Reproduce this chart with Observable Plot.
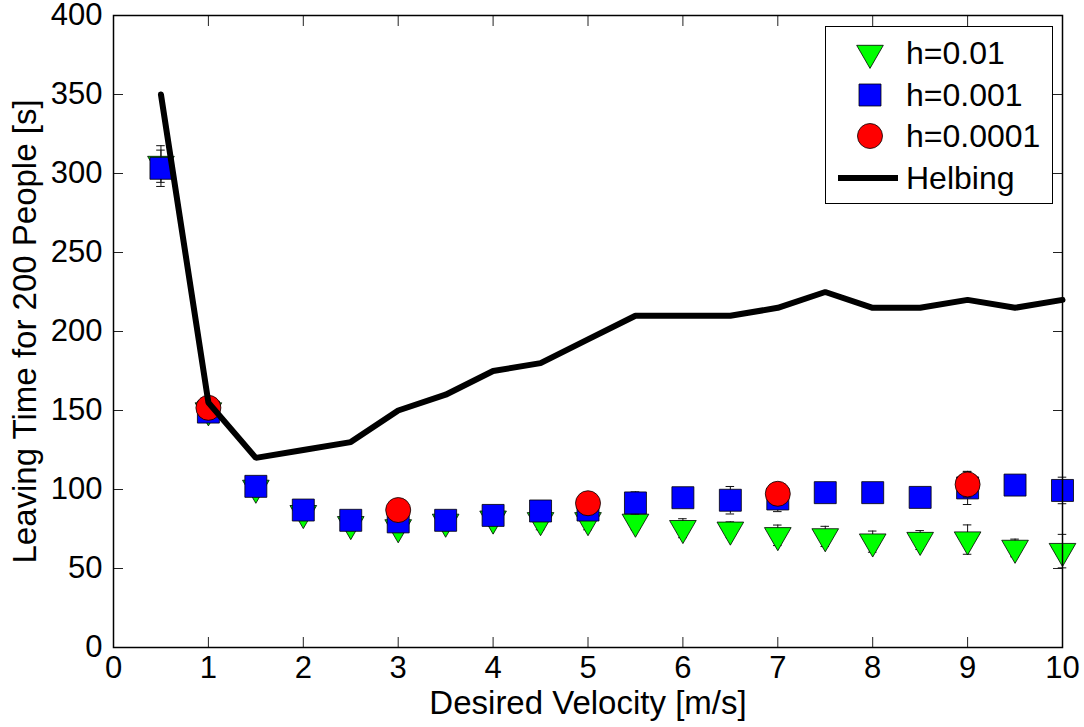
<!DOCTYPE html>
<html><head><meta charset="utf-8">
<script src="https://cdn.jsdelivr.net/npm/d3@7"></script>
<script src="https://cdn.jsdelivr.net/npm/@observablehq/plot@0.6"></script>
<style>
body{margin:0;background:#fff;}
#wrap{position:relative;width:1084px;height:727px;font-family:"Liberation Sans",Arial,Helvetica,sans-serif;}
#legend{position:absolute;left:825px;top:26px;}
</style></head><body><div id="wrap"></div>
<script>
// ---- data ----
const velocity = [0.5,1,1.5,2,2.5,3,3.5,4,4.5,5,5.5,6,6.5,7,7.5,8,8.5,9,9.5,10];
const leaveH01 = [306,150,101,85,78,76,79.5,81.5,80.5,80.5,79.5,75.5,74.5,71,70.3,67,68,68.3,63,61];
const errH01   = [11.6,3,3,3,3,3,3,4,6,6,5,6,5,6.5,6.4,6.7,6,9.3,5.6,10.6];
const leaveH001 = [303.3,149,102,87,80.5,79.5,80.5,83.6,86.4,87,91.5,94.8,93.2,94,98,98,95,101,102.8,99.4];
const errH001   = [11.5,2,2,2,2,2,2,3,3,4,7,5,8.7,8,3,3,3,10.5,2,8.4];
const velocityH0001 = [1,3,5,7,9];
const leaveH0001 = [151.7,87,91.3,97.3,103.2];
const errH0001   = [2,2,3,7,8];
const helbing = [350,155,120,125,130,150,160,175,180,195,210,210,210,215,225,215,215,220,215,220];
const xTicks = [0,1,2,3,4,5,6,7,8,9,10];
const yTicks = [0,50,100,150,200,250,300,350,400];
const seriesNames = ["h=0.01","h=0.001","h=0.0001","Helbing"];
const xLabel = "Desired Velocity [m/s]";
const yLabel = "Leaving Time for 200 People [s]";

const tri = velocity.map((x,i)=>({x, y:leaveH01[i], e:errH01[i]}));
const sq  = velocity.map((x,i)=>({x, y:leaveH001[i], e:errH001[i]}));
const circ = velocityH0001.map((x,i)=>({x, y:leaveH0001[i], e:errH0001[i]}));
const helb = velocity.map((x,i)=>({x, y:helbing[i]}));

const CAP = 0.045;
const FS = 31;   // tick labels
const LFS = 33;  // axis titles
const GFS = 32;  // legend
function errMarks(data){
  return [
    Plot.ruleX(data,{x:"x", y1:d=>d.y-d.e, y2:d=>d.y+d.e, stroke:"#111", strokeWidth:1}),
    Plot.ruleY(data,{y:d=>d.y+d.e, x1:d=>d.x-CAP, x2:d=>d.x+CAP, stroke:"#111", strokeWidth:1}),
    Plot.ruleY(data,{y:d=>d.y-d.e, x1:d=>d.x-CAP, x2:d=>d.x+CAP, stroke:"#111", strokeWidth:1})
  ];
}
const blank = () => "";

const chart = Plot.plot({
  width:1084, height:727,
  marginLeft:113, marginRight:22, marginTop:15, marginBottom:80,
  style:{fontFamily:'"Liberation Sans",Arial,Helvetica,sans-serif', background:"white", color:"black"},
  x:{domain:[0,10]},
  y:{domain:[0,400]},
  marks:[
    // tick labels
    Plot.axisX({anchor:"bottom", ticks:xTicks, tickSize:0, tickPadding:8, fontSize:FS, label:null}),
    Plot.axisY({anchor:"left", ticks:yTicks, tickSize:0, tickPadding:11, fontSize:FS, label:null}),
    // inward ticks on all four sides
    Plot.axisX({anchor:"bottom", ticks:xTicks, tickSize:10, dy:-10, tickFormat:blank, label:null, stroke:"#222"}),
    Plot.axisX({anchor:"top", ticks:xTicks, tickSize:10, dy:10, tickFormat:blank, label:null, stroke:"#222"}),
    Plot.axisY({anchor:"left", ticks:yTicks, tickSize:10, dx:10, tickFormat:blank, label:null, stroke:"#222"}),
    Plot.axisY({anchor:"right", ticks:yTicks, tickSize:10, dx:-10, tickFormat:blank, label:null, stroke:"#222"}),
    // h=0.01
    ...errMarks(tri),
    Plot.dot(tri,{x:"x", y:"y", symbol:"triangle", r:9.9, rotate:180, fill:"#00ff00", stroke:"#000", strokeWidth:0.8}),
    // h=0.001
    ...errMarks(sq),
    Plot.dot(sq,{x:"x", y:"y", symbol:"square", r:12.4, fill:"#0000ff", stroke:"#000", strokeWidth:0.8}),
    // h=0.0001
    ...errMarks(circ),
    Plot.dot(circ,{x:"x", y:"y", symbol:"circle", r:12.5, fill:"#ff0000", stroke:"#000", strokeWidth:0.8}),
    // Helbing
    Plot.line(helb,{x:"x", y:"y", stroke:"black", strokeWidth:6, strokeLinejoin:"miter"}),
    Plot.frame({stroke:"black", strokeWidth:1.5}),
    // axis titles
    Plot.text([xLabel],{frameAnchor:"bottom", dy:56, fontSize:LFS, textAnchor:"middle", lineAnchor:"middle", fill:"black"}),
    Plot.text([yLabel],{frameAnchor:"left", dx:-88, rotate:-90, fontSize:LFS, textAnchor:"middle", lineAnchor:"middle", fill:"black"})
  ]
});
const wrap = document.getElementById("wrap");
wrap.appendChild(chart);

// legend (HTML overlay)
const LW = 228, LH = 178;
const leg = d3.create("svg").attr("id","legend").attr("width",LW).attr("height",LH)
  .style("font-family",'"Liberation Sans",Arial,Helvetica,sans-serif');
leg.append("rect").attr("x",0.5).attr("y",0.5).attr("width",LW-1).attr("height",LH-1)
  .attr("fill","white").attr("stroke","black").attr("stroke-width",1);
const rows = [27,69,110,152];
const sx = 45, tx = 81;
leg.append("path").attr("d", d3.symbol(d3.symbolTriangle, Math.PI*9.9*9.9)())
  .attr("transform",`translate(${sx},${rows[0]}) rotate(180)`).attr("fill","#00ff00").attr("stroke","#000").attr("stroke-width",0.8);
leg.append("path").attr("d", d3.symbol(d3.symbolSquare, Math.PI*12.4*12.4)())
  .attr("transform",`translate(${sx},${rows[1]})`).attr("fill","#0000ff").attr("stroke","#000").attr("stroke-width",0.8);
leg.append("path").attr("d", d3.symbol(d3.symbolCircle, Math.PI*12.5*12.5)())
  .attr("transform",`translate(${sx},${rows[2]})`).attr("fill","#ff0000").attr("stroke","#000").attr("stroke-width",0.8);
leg.append("line").attr("x1",13).attr("x2",73).attr("y1",rows[3]).attr("y2",rows[3]).attr("stroke","black").attr("stroke-width",6);
seriesNames.forEach((n,i)=>{
  leg.append("text").attr("x",tx).attr("y",rows[i]).attr("dy","0.35em").attr("font-size",GFS).attr("fill","black").text(n);
});
wrap.appendChild(leg.node());
</script>
</body></html>
